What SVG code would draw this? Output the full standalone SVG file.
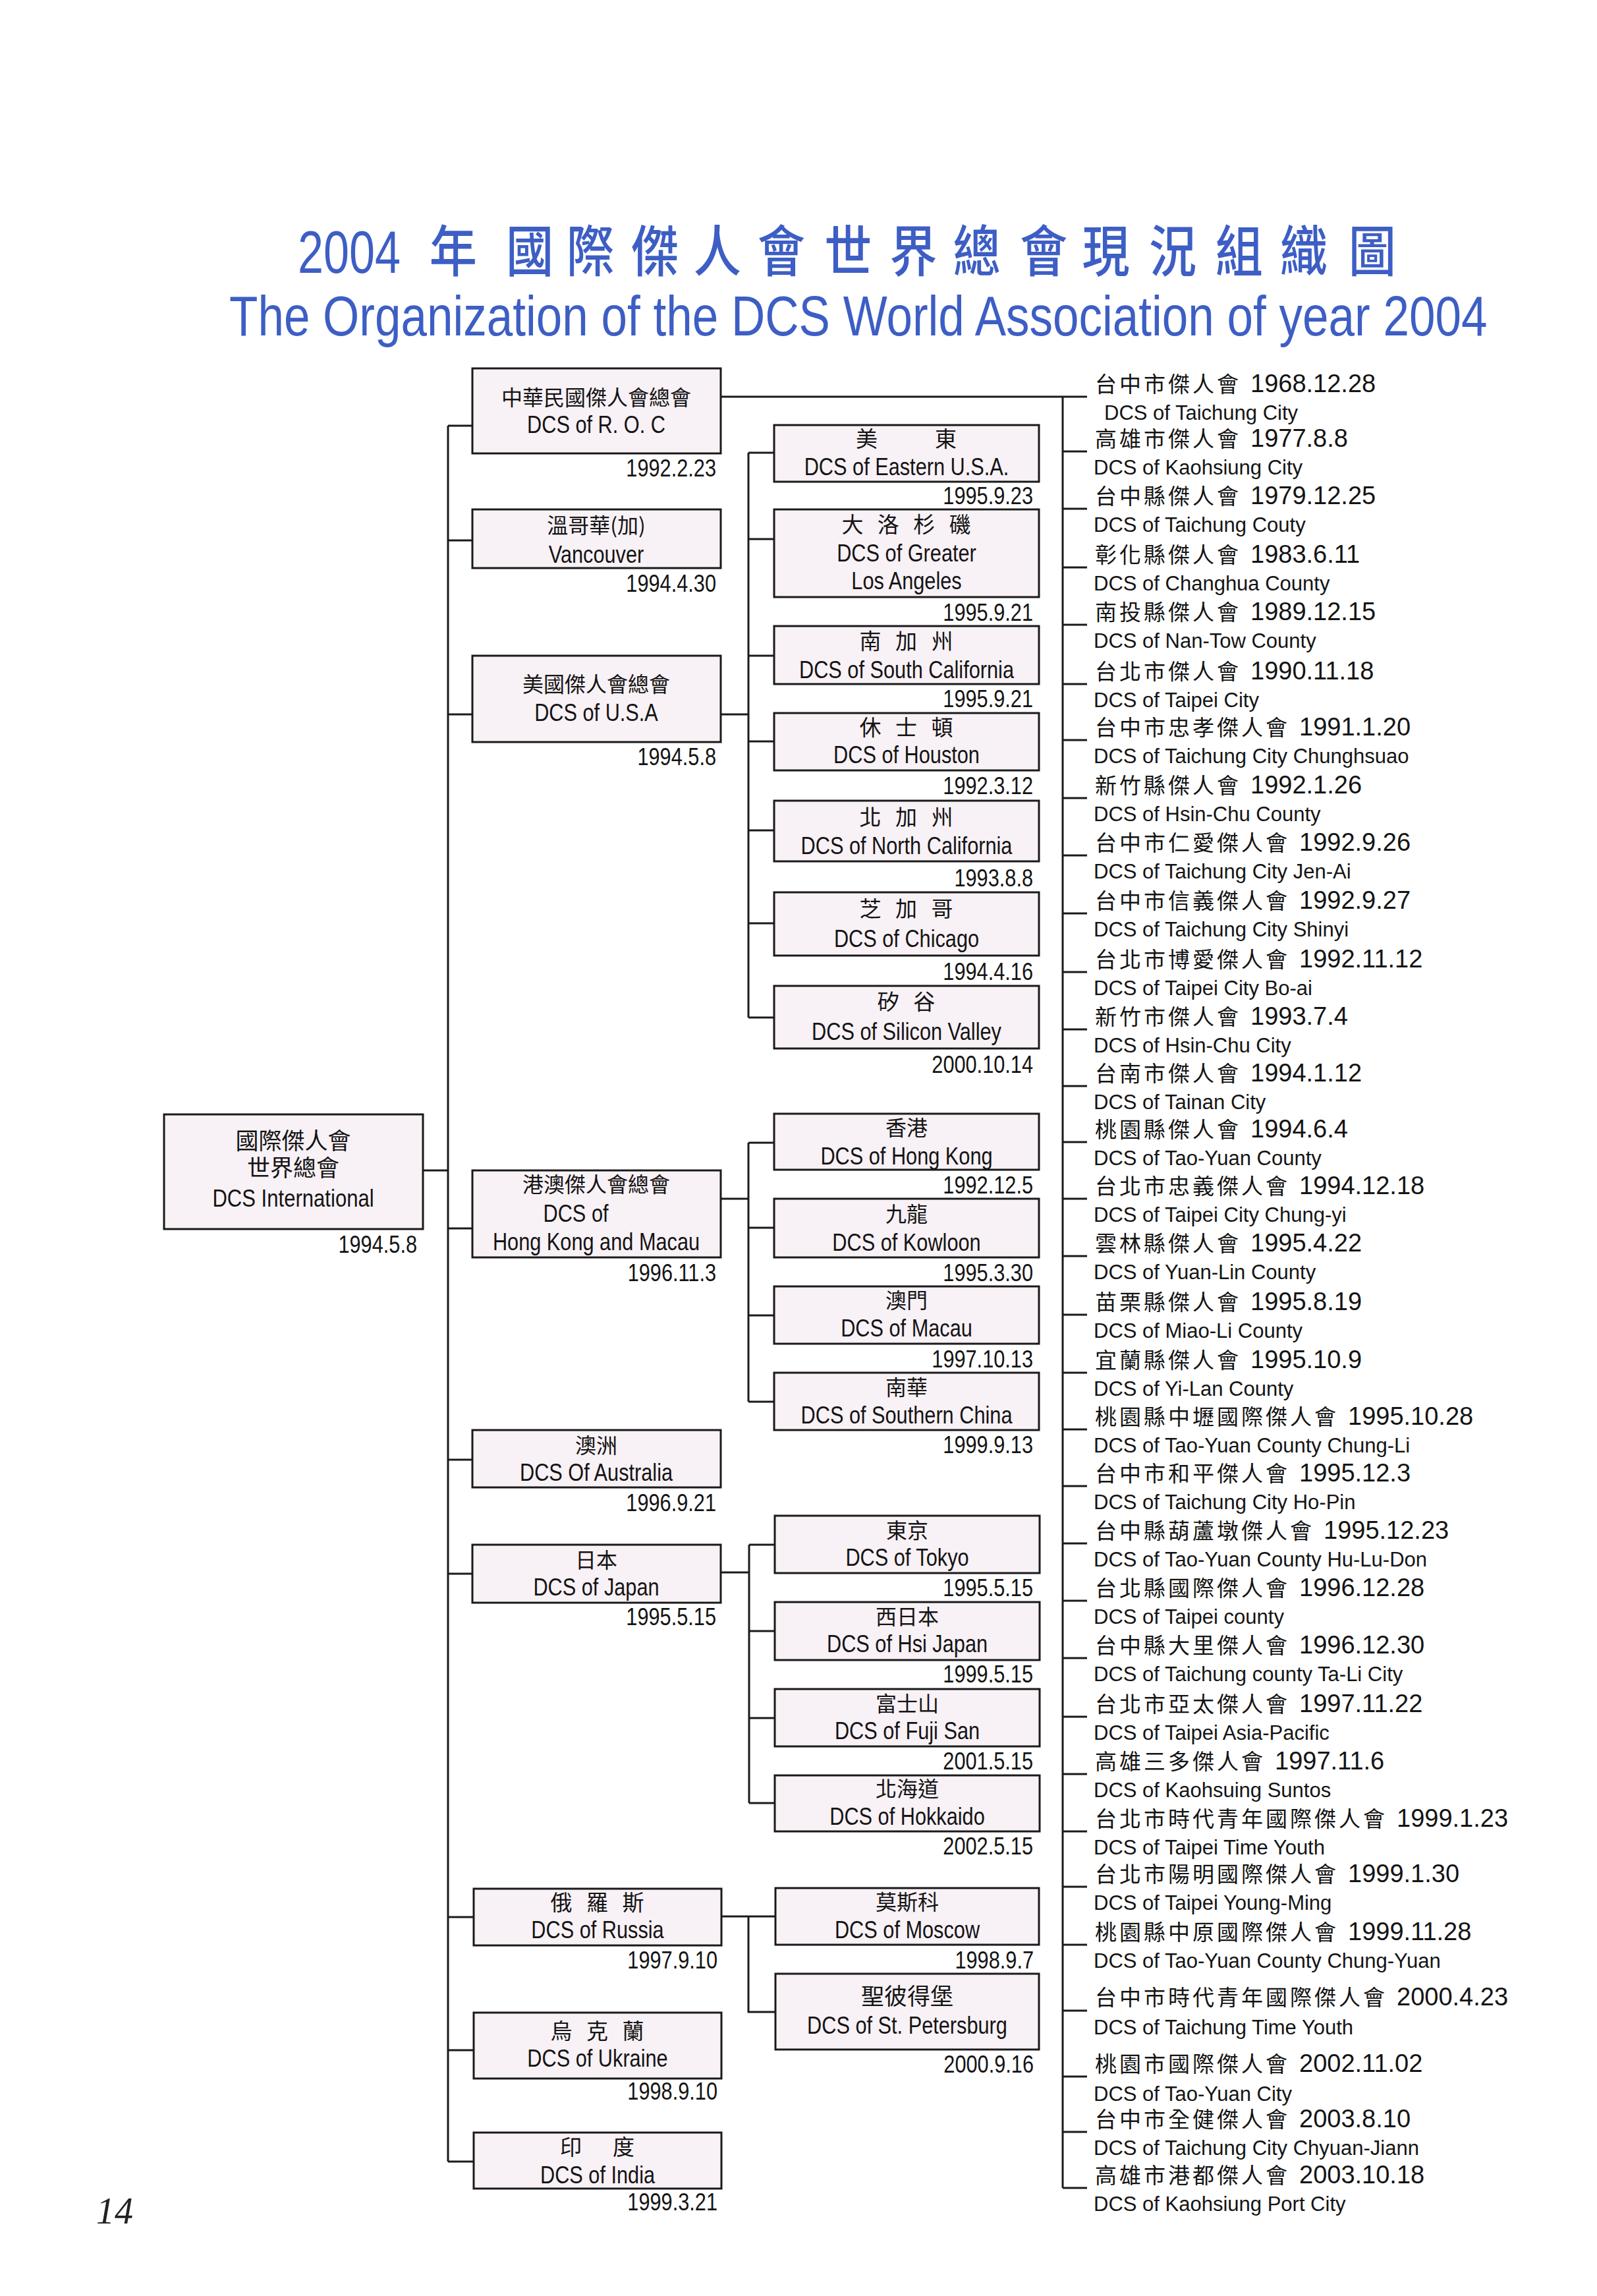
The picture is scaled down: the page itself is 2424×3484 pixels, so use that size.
<svg xmlns="http://www.w3.org/2000/svg" width="2424" height="3484" viewBox="0 0 2424 3484">
<style>
.bg{fill:#ffffff}
.box{fill:#f8f1f6;stroke:#1a1a1a;stroke-width:3}
.ln{fill:none;stroke:#1a1a1a;stroke-width:3}
.zh{font-family:"Noto Sans CJK TC","Noto Sans CJK SC",sans-serif;font-size:32px;fill:#141414;text-anchor:middle}
.zs{font-family:"Noto Sans CJK TC","Noto Sans CJK SC",sans-serif;font-size:33px;letter-spacing:7px;fill:#141414;text-anchor:middle}
.zr{font-family:"Liberation Sans","Noto Sans CJK TC","Noto Sans CJK SC",sans-serif;font-size:35px}
.en{font-family:"Liberation Sans",Arial,sans-serif;font-size:37px;fill:#141414;text-anchor:middle}
.dt{font-family:"Liberation Sans",Arial,sans-serif;font-size:37px;fill:#141414;text-anchor:end}
.r{font-family:"Liberation Sans","Noto Sans CJK TC",sans-serif;fill:#141414}
.rz{font-family:"Noto Sans CJK TC","Noto Sans CJK SC",sans-serif;font-size:33px;letter-spacing:4px}
.rd{font-size:38px}
.re{font-family:"Liberation Sans",Arial,sans-serif;font-size:31px;fill:#141414}
.t1z{font-family:"Liberation Sans","Noto Sans CJK TC","Noto Sans CJK SC",sans-serif;font-size:84px;font-weight:500;fill:#3d5ec4;text-anchor:middle}
.t1d{font-family:"Liberation Sans",Arial,sans-serif;font-size:90px;fill:#3d5ec4}
.t2{font-family:"Liberation Sans",Arial,sans-serif;font-size:86px;fill:#3d5ec4}
.pg{font-family:"Liberation Serif","Times New Roman",serif;font-style:italic;font-size:56px;fill:#222}
</style>
<rect class="bg" x="0" y="0" width="2424" height="3484"/>

<g id="title">
<text class="t1d" transform="translate(452 0) scale(.78 1)" x="0" y="414">2004</text>
<text class="t1z" transform="scale(.86 1)" x="800 935 1042 1156 1266 1379 1497 1612 1724 1842 1952 2070 2187 2301 2422" y="412">年國際傑人會世界總會現況組織圖</text>
<text class="t2" transform="translate(348 0) scale(.826 1)" x="0" y="509">The Organization of the DCS World Association of year 2004</text>
</g>

<g id="connectors">
<path class="ln" d="M680 646V3280 M680 646H717 M680 820H717 M680 1084H717 M642 1776H680 M680 1864H718 M680 2215H718 M680 2388H718 M680 2909H720 M680 3111H720 M680 3280H720"/>
<path class="ln" d="M1093 602H1650 M1613 602V3320 M1613 685H1650 M1613 772H1650 M1613 861H1650 M1613 948H1650 M1613 1038H1650 M1613 1123H1650 M1613 1211H1650 M1613 1298H1650 M1613 1386H1650 M1613 1475H1650 M1613 1562H1650 M1613 1648H1650 M1613 1733H1650 M1613 1819H1650 M1613 1906H1650 M1613 1995H1650 M1613 2083H1650 M1613 2169H1650 M1613 2255H1650 M1613 2342H1650 M1613 2429H1650 M1613 2516H1650 M1613 2605H1650 M1613 2692H1650 M1613 2779H1650 M1613 2863H1650 M1613 2951H1650 M1613 3051H1650 M1613 3151H1650 M1613 3235H1650 M1613 3320H1650"/>
<path class="ln" d="M1094 1084H1136 M1136 687V1544 M1136 687H1175 M1136 818H1175 M1136 995H1175 M1136 1125H1175 M1136 1260H1175 M1136 1401H1175 M1136 1544H1175"/>
<path class="ln" d="M1094 1819H1136 M1136 1734V2127 M1136 1734H1175 M1136 1863H1175 M1136 1996H1175 M1136 2127H1175"/>
<path class="ln" d="M1095 2386H1137 M1137 2344V2736 M1137 2344H1176 M1137 2475H1176 M1137 2607H1176 M1137 2736H1176"/>
<path class="ln" d="M1095 2908H1177 M1136 2908V3053H1177"/>
</g>

<g id="root">
<rect class="box" x="249" y="1691" width="393" height="174"/>
<text class="zh zr" x="445" y="1744">國際傑人會</text>
<text class="zh zr" x="445" y="1785">世界總會</text>
<text class="en" transform="translate(445 0) scale(.84 1)" y="1831">DCS International</text>
<text class="dt" transform="translate(633 0) scale(.83 1)" y="1901">1994.5.8</text>
</g>

<g id="roc">
<rect class="box" x="717" y="559" width="377" height="129"/>
<text class="zh" x="905" y="615">中華民國傑人會總會</text>
<text class="en" transform="translate(905 0) scale(.83 1)" y="657">DCS of R. O. C</text>
<text class="dt" transform="translate(1087 0) scale(.83 1)" y="723">1992.2.23</text>
</g>

<g id="vancouver">
<rect class="box" x="717" y="773" width="377" height="89"/>
<text class="zh" x="905" y="809">溫哥華(加)</text>
<text class="en" transform="translate(905 0) scale(.83 1)" y="854">Vancouver</text>
<text class="dt" transform="translate(1087 0) scale(.83 1)" y="898">1994.4.30</text>
</g>

<g id="usa">
<rect class="box" x="717" y="995" width="377" height="131"/>
<text class="zh" x="905" y="1050">美國傑人會總會</text>
<text class="en" transform="translate(905 0) scale(.83 1)" y="1094">DCS of U.S.A</text>
<text class="dt" transform="translate(1087 0) scale(.83 1)" y="1161">1994.5.8</text>
</g>

<g id="hkmacau">
<rect class="box" x="717" y="1776" width="377" height="132"/>
<text class="zh" x="905" y="1809">港澳傑人會總會</text>
<text class="en" transform="translate(874 0) scale(.83 1)" y="1854">DCS of</text>
<text class="en" transform="translate(905 0) scale(.83 1)" y="1897">Hong Kong and Macau</text>
<text class="dt" transform="translate(1087 0) scale(.83 1)" y="1944">1996.11.3</text>
</g>

<g id="australia">
<rect class="box" x="717" y="2170" width="377" height="87"/>
<text class="zh" x="905" y="2205">澳洲</text>
<text class="en" transform="translate(905 0) scale(.83 1)" y="2247">DCS Of Australia</text>
<text class="dt" transform="translate(1087 0) scale(.83 1)" y="2293">1996.9.21</text>
</g>

<g id="japan">
<rect class="box" x="717" y="2344" width="377" height="88"/>
<text class="zh" x="905" y="2379">日本</text>
<text class="en" transform="translate(905 0) scale(.83 1)" y="2421">DCS of Japan</text>
<text class="dt" transform="translate(1087 0) scale(.83 1)" y="2466">1995.5.15</text>
</g>

<g id="russia">
<rect class="box" x="719" y="2866" width="376" height="86"/>
<text class="zs" x="910" y="2899">俄 羅 斯</text>
<text class="en" transform="translate(907 0) scale(.83 1)" y="2941">DCS of Russia</text>
<text class="dt" transform="translate(1089 0) scale(.83 1)" y="2987">1997.9.10</text>
</g>

<g id="ukraine">
<rect class="box" x="719" y="3054" width="376" height="100"/>
<text class="zs" x="910" y="3094">烏 克 蘭</text>
<text class="en" transform="translate(907 0) scale(.83 1)" y="3136">DCS of Ukraine</text>
<text class="dt" transform="translate(1089 0) scale(.83 1)" y="3186">1998.9.10</text>
</g>

<g id="india">
<rect class="box" x="719" y="3236" width="376" height="85"/>
<text class="zs" x="910" y="3270">印　度</text>
<text class="en" transform="translate(907 0) scale(.83 1)" y="3313">DCS of India</text>
<text class="dt" transform="translate(1089 0) scale(.83 1)" y="3354">1999.3.21</text>
</g>

<g id="eastern">
<rect class="box" x="1175" y="645" width="402" height="86"/>
<text class="zs" x="1379" y="678">美　　東</text>
<text class="en" transform="translate(1376 0) scale(.83 1)" y="721">DCS of Eastern U.S.A.</text>
<text class="dt" transform="translate(1568 0) scale(.83 1)" y="765">1995.9.23</text>
</g>

<g id="losangeles">
<rect class="box" x="1175" y="773" width="402" height="133"/>
<text class="zs" x="1379" y="808">大 洛 杉 磯</text>
<text class="en" transform="translate(1376 0) scale(.83 1)" y="852">DCS of Greater</text>
<text class="en" transform="translate(1376 0) scale(.83 1)" y="894">Los Angeles</text>
<text class="dt" transform="translate(1568 0) scale(.83 1)" y="942">1995.9.21</text>
</g>

<g id="southcal">
<rect class="box" x="1175" y="950" width="402" height="88"/>
<text class="zs" x="1379" y="985">南 加 州</text>
<text class="en" transform="translate(1376 0) scale(.83 1)" y="1029">DCS of South California</text>
<text class="dt" transform="translate(1568 0) scale(.83 1)" y="1073">1995.9.21</text>
</g>

<g id="houston">
<rect class="box" x="1175" y="1082" width="402" height="87"/>
<text class="zs" x="1379" y="1116">休 士 頓</text>
<text class="en" transform="translate(1376 0) scale(.83 1)" y="1158">DCS of Houston</text>
<text class="dt" transform="translate(1568 0) scale(.83 1)" y="1205">1992.3.12</text>
</g>

<g id="northcal">
<rect class="box" x="1175" y="1215" width="402" height="92"/>
<text class="zs" x="1379" y="1252">北 加 州</text>
<text class="en" transform="translate(1376 0) scale(.83 1)" y="1296">DCS of North California</text>
<text class="dt" transform="translate(1568 0) scale(.83 1)" y="1345">1993.8.8</text>
</g>

<g id="chicago">
<rect class="box" x="1175" y="1354" width="402" height="96"/>
<text class="zs" x="1379" y="1391">芝 加 哥</text>
<text class="en" transform="translate(1376 0) scale(.83 1)" y="1437">DCS of Chicago</text>
<text class="dt" transform="translate(1568 0) scale(.83 1)" y="1487">1994.4.16</text>
</g>

<g id="siliconvalley">
<rect class="box" x="1175" y="1496" width="402" height="95"/>
<text class="zs" x="1379" y="1532">矽 谷</text>
<text class="en" transform="translate(1376 0) scale(.83 1)" y="1578">DCS of Silicon Valley</text>
<text class="dt" transform="translate(1568 0) scale(.83 1)" y="1628">2000.10.14</text>
</g>

<g id="hongkong">
<rect class="box" x="1175" y="1690" width="402" height="85"/>
<text class="zh" x="1376" y="1723">香港</text>
<text class="en" transform="translate(1376 0) scale(.83 1)" y="1767">DCS of Hong Kong</text>
<text class="dt" transform="translate(1568 0) scale(.83 1)" y="1811">1992.12.5</text>
</g>

<g id="kowloon">
<rect class="box" x="1175" y="1819" width="402" height="89"/>
<text class="zh" x="1376" y="1854">九龍</text>
<text class="en" transform="translate(1376 0) scale(.83 1)" y="1898">DCS of Kowloon</text>
<text class="dt" transform="translate(1568 0) scale(.83 1)" y="1944">1995.3.30</text>
</g>

<g id="macau">
<rect class="box" x="1175" y="1952" width="402" height="87"/>
<text class="zh" x="1376" y="1985">澳門</text>
<text class="en" transform="translate(1376 0) scale(.83 1)" y="2028">DCS of Macau</text>
<text class="dt" transform="translate(1568 0) scale(.83 1)" y="2075">1997.10.13</text>
</g>

<g id="southernchina">
<rect class="box" x="1175" y="2083" width="402" height="87"/>
<text class="zh" x="1376" y="2117">南華</text>
<text class="en" transform="translate(1376 0) scale(.83 1)" y="2160">DCS of Southern China</text>
<text class="dt" transform="translate(1568 0) scale(.83 1)" y="2205">1999.9.13</text>
</g>

<g id="tokyo">
<rect class="box" x="1176" y="2300" width="402" height="87"/>
<text class="zh" x="1377" y="2334">東京</text>
<text class="en" transform="translate(1377 0) scale(.83 1)" y="2376">DCS of Tokyo</text>
<text class="dt" transform="translate(1568 0) scale(.83 1)" y="2422">1995.5.15</text>
</g>

<g id="hsijapan">
<rect class="box" x="1176" y="2431" width="402" height="88"/>
<text class="zh" x="1377" y="2465">西日本</text>
<text class="en" transform="translate(1377 0) scale(.83 1)" y="2507">DCS of Hsi Japan</text>
<text class="dt" transform="translate(1568 0) scale(.83 1)" y="2553">1999.5.15</text>
</g>

<g id="fujisan">
<rect class="box" x="1176" y="2563" width="402" height="87"/>
<text class="zh" x="1377" y="2597">富士山</text>
<text class="en" transform="translate(1377 0) scale(.83 1)" y="2639">DCS of Fuji San</text>
<text class="dt" transform="translate(1568 0) scale(.83 1)" y="2685">2001.5.15</text>
</g>

<g id="hokkaido">
<rect class="box" x="1176" y="2694" width="402" height="85"/>
<text class="zh" x="1377" y="2726">北海道</text>
<text class="en" transform="translate(1377 0) scale(.83 1)" y="2769">DCS of Hokkaido</text>
<text class="dt" transform="translate(1568 0) scale(.83 1)" y="2814">2002.5.15</text>
</g>

<g id="moscow">
<rect class="box" x="1177" y="2865" width="400" height="86"/>
<text class="zh" x="1377" y="2898">莫斯科</text>
<text class="en" transform="translate(1377 0) scale(.83 1)" y="2941">DCS of Moscow</text>
<text class="dt" transform="translate(1569 0) scale(.83 1)" y="2987">1998.9.7</text>
</g>

<g id="stpetersburg">
<rect class="box" x="1177" y="2995" width="400" height="115"/>
<text class="zh" x="1377" y="3042" style="font-size:35px">聖彼得堡</text>
<text class="en" transform="translate(1377 0) scale(.83 1)" y="3086">DCS of St. Petersburg</text>
<text class="dt" transform="translate(1569 0) scale(.83 1)" y="3145">2000.9.16</text>
</g>

<g id="taiwan-list">
<g id="t01"><text class="r" x="1662" y="595"><tspan class="rz">台中市傑人會</tspan><tspan class="rd" dx="14">1968.12.28</tspan></text><text class="re" x="1676" y="637">DCS of Taichung City</text></g>
<g id="t02"><text class="r" x="1662" y="678"><tspan class="rz">高雄市傑人會</tspan><tspan class="rd" dx="14">1977.8.8</tspan></text><text class="re" x="1660" y="720">DCS of Kaohsiung City</text></g>
<g id="t03"><text class="r" x="1662" y="765"><tspan class="rz">台中縣傑人會</tspan><tspan class="rd" dx="14">1979.12.25</tspan></text><text class="re" x="1660" y="807">DCS of Taichung Couty</text></g>
<g id="t04"><text class="r" x="1662" y="854"><tspan class="rz">彰化縣傑人會</tspan><tspan class="rd" dx="14">1983.6.11</tspan></text><text class="re" x="1660" y="896">DCS of Changhua County</text></g>
<g id="t05"><text class="r" x="1662" y="941"><tspan class="rz">南投縣傑人會</tspan><tspan class="rd" dx="14">1989.12.15</tspan></text><text class="re" x="1660" y="983">DCS of Nan-Tow County</text></g>
<g id="t06"><text class="r" x="1662" y="1031"><tspan class="rz">台北市傑人會</tspan><tspan class="rd" dx="14">1990.11.18</tspan></text><text class="re" x="1660" y="1073">DCS of Taipei City</text></g>
<g id="t07"><text class="r" x="1662" y="1116"><tspan class="rz">台中市忠孝傑人會</tspan><tspan class="rd" dx="14">1991.1.20</tspan></text><text class="re" x="1660" y="1158">DCS of Taichung City Chunghsuao</text></g>
<g id="t08"><text class="r" x="1662" y="1204"><tspan class="rz">新竹縣傑人會</tspan><tspan class="rd" dx="14">1992.1.26</tspan></text><text class="re" x="1660" y="1246">DCS of Hsin-Chu County</text></g>
<g id="t09"><text class="r" x="1662" y="1291"><tspan class="rz">台中市仁愛傑人會</tspan><tspan class="rd" dx="14">1992.9.26</tspan></text><text class="re" x="1660" y="1333">DCS of Taichung City Jen-Ai</text></g>
<g id="t10"><text class="r" x="1662" y="1379"><tspan class="rz">台中市信義傑人會</tspan><tspan class="rd" dx="14">1992.9.27</tspan></text><text class="re" x="1660" y="1421">DCS of Taichung City Shinyi</text></g>
<g id="t11"><text class="r" x="1662" y="1468"><tspan class="rz">台北市博愛傑人會</tspan><tspan class="rd" dx="14">1992.11.12</tspan></text><text class="re" x="1660" y="1510">DCS of Taipei City Bo-ai</text></g>
<g id="t12"><text class="r" x="1662" y="1555"><tspan class="rz">新竹市傑人會</tspan><tspan class="rd" dx="14">1993.7.4</tspan></text><text class="re" x="1660" y="1597">DCS of Hsin-Chu City</text></g>
<g id="t13"><text class="r" x="1662" y="1641"><tspan class="rz">台南市傑人會</tspan><tspan class="rd" dx="14">1994.1.12</tspan></text><text class="re" x="1660" y="1683">DCS of Tainan City</text></g>
<g id="t14"><text class="r" x="1662" y="1726"><tspan class="rz">桃園縣傑人會</tspan><tspan class="rd" dx="14">1994.6.4</tspan></text><text class="re" x="1660" y="1768">DCS of Tao-Yuan County</text></g>
<g id="t15"><text class="r" x="1662" y="1812"><tspan class="rz">台北市忠義傑人會</tspan><tspan class="rd" dx="14">1994.12.18</tspan></text><text class="re" x="1660" y="1854">DCS of Taipei City Chung-yi</text></g>
<g id="t16"><text class="r" x="1662" y="1899"><tspan class="rz">雲林縣傑人會</tspan><tspan class="rd" dx="14">1995.4.22</tspan></text><text class="re" x="1660" y="1941">DCS of Yuan-Lin County</text></g>
<g id="t17"><text class="r" x="1662" y="1988"><tspan class="rz">苗栗縣傑人會</tspan><tspan class="rd" dx="14">1995.8.19</tspan></text><text class="re" x="1660" y="2030">DCS of Miao-Li County</text></g>
<g id="t18"><text class="r" x="1662" y="2076"><tspan class="rz">宜蘭縣傑人會</tspan><tspan class="rd" dx="14">1995.10.9</tspan></text><text class="re" x="1660" y="2118">DCS of Yi-Lan County</text></g>
<g id="t19"><text class="r" x="1662" y="2162"><tspan class="rz">桃園縣中壢國際傑人會</tspan><tspan class="rd" dx="14">1995.10.28</tspan></text><text class="re" x="1660" y="2204">DCS of Tao-Yuan County Chung-Li</text></g>
<g id="t20"><text class="r" x="1662" y="2248"><tspan class="rz">台中市和平傑人會</tspan><tspan class="rd" dx="14">1995.12.3</tspan></text><text class="re" x="1660" y="2290">DCS of Taichung City Ho-Pin</text></g>
<g id="t21"><text class="r" x="1662" y="2335"><tspan class="rz">台中縣葫蘆墩傑人會</tspan><tspan class="rd" dx="14">1995.12.23</tspan></text><text class="re" x="1660" y="2377">DCS of Tao-Yuan County Hu-Lu-Don</text></g>
<g id="t22"><text class="r" x="1662" y="2422"><tspan class="rz">台北縣國際傑人會</tspan><tspan class="rd" dx="14">1996.12.28</tspan></text><text class="re" x="1660" y="2464">DCS of Taipei county</text></g>
<g id="t23"><text class="r" x="1662" y="2509"><tspan class="rz">台中縣大里傑人會</tspan><tspan class="rd" dx="14">1996.12.30</tspan></text><text class="re" x="1660" y="2551">DCS of Taichung county Ta-Li City</text></g>
<g id="t24"><text class="r" x="1662" y="2598"><tspan class="rz">台北市亞太傑人會</tspan><tspan class="rd" dx="14">1997.11.22</tspan></text><text class="re" x="1660" y="2640">DCS of Taipei Asia-Pacific</text></g>
<g id="t25"><text class="r" x="1662" y="2685"><tspan class="rz">高雄三多傑人會</tspan><tspan class="rd" dx="14">1997.11.6</tspan></text><text class="re" x="1660" y="2727">DCS of Kaohsuing Suntos</text></g>
<g id="t26"><text class="r" x="1662" y="2772"><tspan class="rz">台北市時代青年國際傑人會</tspan><tspan class="rd" dx="14">1999.1.23</tspan></text><text class="re" x="1660" y="2814">DCS of Taipei Time Youth</text></g>
<g id="t27"><text class="r" x="1662" y="2856"><tspan class="rz">台北市陽明國際傑人會</tspan><tspan class="rd" dx="14">1999.1.30</tspan></text><text class="re" x="1660" y="2898">DCS of Taipei Young-Ming</text></g>
<g id="t28"><text class="r" x="1662" y="2944"><tspan class="rz">桃園縣中原國際傑人會</tspan><tspan class="rd" dx="14">1999.11.28</tspan></text><text class="re" x="1660" y="2986">DCS of Tao-Yuan County Chung-Yuan</text></g>
<g id="t29"><text class="r" x="1662" y="3043"><tspan class="rz">台中市時代青年國際傑人會</tspan><tspan class="rd" dx="14">2000.4.23</tspan></text><text class="re" x="1660" y="3087">DCS of Taichung Time Youth</text></g>
<g id="t30"><text class="r" x="1662" y="3144"><tspan class="rz">桃園市國際傑人會</tspan><tspan class="rd" dx="14">2002.11.02</tspan></text><text class="re" x="1660" y="3188">DCS of Tao-Yuan City</text></g>
<g id="t31"><text class="r" x="1662" y="3228"><tspan class="rz">台中市全健傑人會</tspan><tspan class="rd" dx="14">2003.8.10</tspan></text><text class="re" x="1660" y="3270">DCS of Taichung City Chyuan-Jiann</text></g>
<g id="t32"><text class="r" x="1662" y="3313"><tspan class="rz">高雄市港都傑人會</tspan><tspan class="rd" dx="14">2003.10.18</tspan></text><text class="re" x="1660" y="3355">DCS of Kaohsiung Port City</text></g>
</g>

<text class="pg" x="146" y="3374">14</text>
</svg>
